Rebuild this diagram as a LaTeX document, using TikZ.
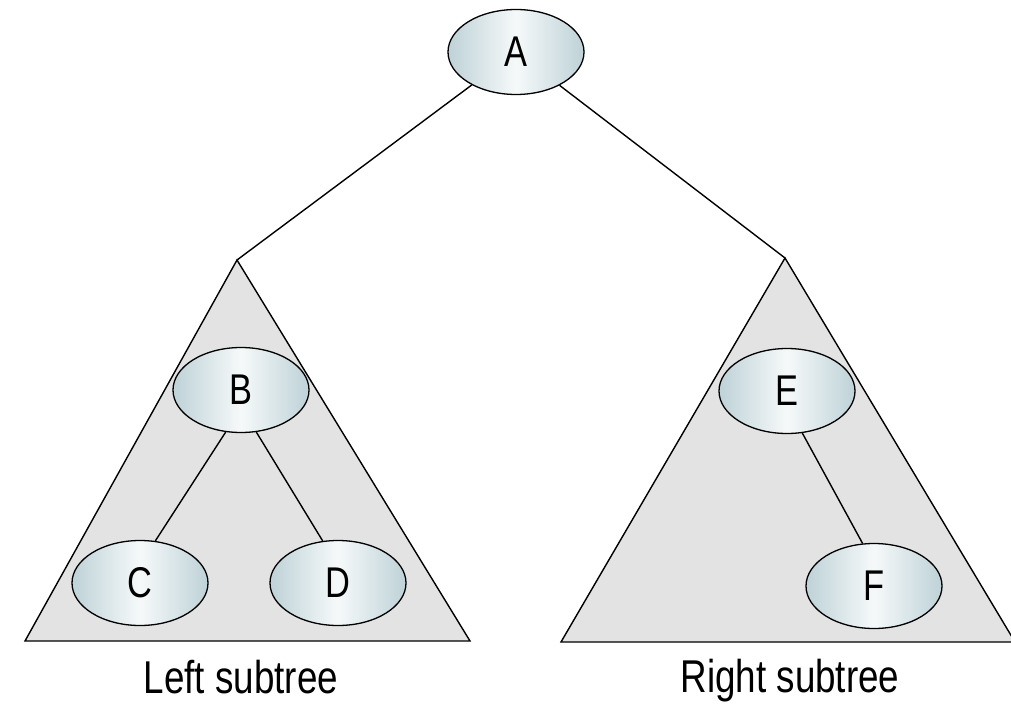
\documentclass[tikz,border=0pt]{standalone}
\usepackage{fontspec}
\setmainfont{Liberation Sans}
\usetikzlibrary{shapes.geometric}
\definecolor{nodeedge}{RGB}{190,210,215}
\definecolor{nodemid}{RGB}{246,249,250}
\definecolor{trifill}{RGB}{227,227,227}
\tikzset{
  tnode/.style={ellipse, draw=black, line width=1.3pt, inner sep=0pt,
    minimum width=136pt, minimum height=85pt,
    left color=nodeedge, right color=nodeedge, middle color=nodemid,
    font=\fontsize{43}{43}\selectfont},
  subtri/.style={fill=trifill, draw=black, line width=1.4pt, line join=miter},
  edge/.style={draw=black, line width=1.4pt},
  caption/.style={font=\fontsize{46}{46}\selectfont, inner sep=0pt}
}
\newcommand{\nar}[1]{\scalebox{0.8}[1]{#1}}
\begin{document}
\begin{tikzpicture}[x=1pt,y=-1pt]
\useasboundingbox (0,0) rectangle (1011,711);
\fill[white] (0,0) rectangle (1011,711);
% subtrees
\coordinate (lapex) at (237,260);
\coordinate (rapex) at (785,258);
\path[subtri] (lapex) -- (470,641) -- (25,641) -- cycle;
\path[subtri] (rapex) -- (1015,642) -- (561,642) -- cycle;
% nodes
\node[tnode] (A) at (516,52) {\nar{A}};
\node[tnode] (B) at (241,390) {\nar{B}};
\node[tnode] (C) at (140,583) {\nar{C}};
\node[tnode] (D) at (338,583) {\nar{D}};
\node[tnode] (E) at (787,391) {\nar{E}};
\node[tnode] (F) at (874,586) {\nar{F}};
% connectors
\draw[edge] (A) -- (lapex);
\draw[edge] (A) -- (rapex);
\draw[edge] (B.-110) -- (C.70);
\draw[edge] (B.-70) -- (D.110);
\draw[edge] (E.-70) -- (F.105);
% captions
\node[caption] (lcap) at (241,677) {\nar{Left subtree}};
\node[caption] (rcap) at (790,681) {\nar{Right subtree}};
\end{tikzpicture}
\end{document}
